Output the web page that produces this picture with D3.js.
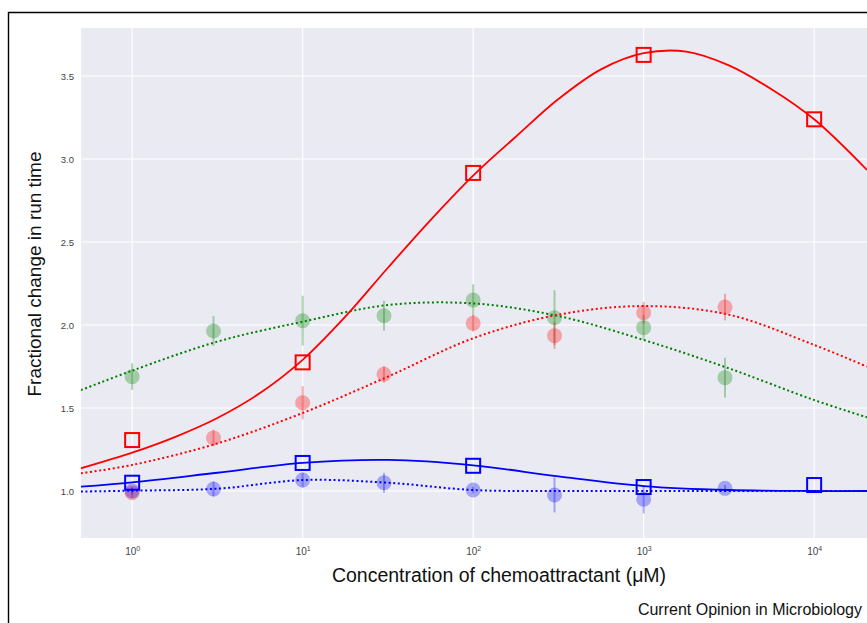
<!DOCTYPE html>
<html>
<head>
<meta charset="utf-8">
<script src="https://cdn.jsdelivr.net/npm/d3@7"></script>
<style>
  body { margin: 0; background: #fff; }
  svg { display: block; font-family: "Liberation Sans", Arial, sans-serif; }
</style>
</head>
<body>
<svg id="chart" width="867" height="623"></svg>
<script>
// measured values (open squares = solid fits, circles = dotted fits)
const squareConc = [1, 10, 100, 1000, 10000];
const redSquares = [1.307, 1.775, 2.916, 3.627, 3.239];
const blueSquares = [1.05, 1.169, 1.152, 1.024, 1.036];

const circleConc = [1, 3, 10, 30, 100, 300, 1000, 3000];
const redCircles = [0.99, 1.32, 1.532, 1.703, 2.01, 1.936, 2.074, 2.108];
const redErr = [0.035, 0.05, 0.1, 0.05, 0.05, 0.08, 0.065, 0.08];
const greenCircles = [1.689, 1.964, 2.026, 2.056, 2.15, 2.044, 1.984, 1.683];
const greenErr = [0.08, 0.09, 0.15, 0.09, 0.095, 0.165, 0.075, 0.12];
const blueCircles = [1.0, 1.012, 1.066, 1.05, 1.006, 0.976, 0.95, 1.016];
const blueErr = [0.02, 0.045, 0.045, 0.06, 0.02, 0.105, 0.085, 0.02];

// fitted curves (log10 of concentration)
const redSolidLog = [-0.3, 0, 0.25, 0.5, 0.75, 1, 1.25, 1.5, 1.75, 2, 2.25, 2.5, 2.75, 3, 3.25, 3.5, 3.75, 4, 4.31];
const redSolid = [1.137, 1.231, 1.325, 1.44, 1.59, 1.79, 2.05, 2.345, 2.632, 2.9, 3.134, 3.361, 3.54, 3.637, 3.647, 3.564, 3.42, 3.239, 2.934];
const curveLog = [-0.3, 0, 0.5, 1, 1.5, 2, 2.5, 3, 3.5, 4, 4.31];
const redDotted = [1.107, 1.157, 1.287, 1.47, 1.689, 1.92, 2.062, 2.114, 2.062, 1.88, 1.749];
const greenDotted = [1.608, 1.725, 1.9, 2.02, 2.12, 2.13, 2.054, 1.91, 1.739, 1.548, 1.444];
const blueSolid = [1.026, 1.052, 1.11, 1.169, 1.187, 1.155, 1.088, 1.03, 1.006, 1.0, 1.0];
const blueDotted = [0.997, 1.002, 1.014, 1.066, 1.05, 1.006, 1.0, 1.0, 1.0, 1.0, 1.0];

const yTicks = [1.0, 1.5, 2.0, 2.5, 3.0, 3.5];
const xTickExp = [0, 1, 2, 3, 4];

const svg = d3.select("#chart");
const plot = {left: 81, top: 28, right: 867, bottom: 538};

const x = d3.scaleLog()
  .domain([Math.pow(10, -0.3), Math.pow(10, 4.31)])
  .range([plot.left, plot.right]);
const y = d3.scaleLinear()
  .domain([0.717, 3.789])
  .range([plot.bottom, plot.top]);

// outer frame
svg.append("path")
  .attr("d", "M8.5,623 L8.5,12.5 L867,12.5")
  .attr("fill", "none")
  .attr("stroke", "#000")
  .attr("stroke-width", 1.4);

// plot background
svg.append("rect")
  .attr("x", plot.left).attr("y", plot.top)
  .attr("width", plot.right - plot.left)
  .attr("height", plot.bottom - plot.top)
  .attr("fill", "#eaeaf2");

svg.append("clipPath").attr("id", "clip")
  .append("rect")
  .attr("x", plot.left).attr("y", plot.top)
  .attr("width", plot.right - plot.left)
  .attr("height", plot.bottom - plot.top);

// grid
const grid = svg.append("g").attr("stroke", "#fff").attr("stroke-width", 1.2);
grid.selectAll(".gy").data(yTicks).join("line")
  .attr("x1", plot.left).attr("x2", plot.right)
  .attr("y1", d => y(d)).attr("y2", d => y(d));
grid.selectAll(".gx").data(xTickExp).join("line")
  .attr("y1", plot.top).attr("y2", plot.bottom)
  .attr("x1", d => x(Math.pow(10, d))).attr("x2", d => x(Math.pow(10, d)));

// y axis
const yAxis = svg.append("g")
  .attr("transform", `translate(${plot.left},0)`)
  .call(d3.axisLeft(y).tickValues(yTicks).tickFormat(d3.format(".1f")).tickSize(0).tickPadding(7));
yAxis.select(".domain").remove();
yAxis.selectAll("text")
  .attr("font-family", "Liberation Sans, Arial, sans-serif")
  .attr("font-size", 9.5)
  .attr("fill", "#444");

// x axis with superscript labels
const xAxis = svg.append("g")
  .attr("transform", `translate(0,${plot.bottom})`)
  .call(d3.axisBottom(x).tickValues(xTickExp.map(e => Math.pow(10, e))).tickFormat(() => "").tickSize(0));
xAxis.select(".domain").remove();
xAxis.selectAll(".tick").each(function(d, i) {
  const t = d3.select(this).select("text")
    .attr("y", 17)
    .attr("dy", 0)
    .attr("font-family", "Liberation Sans, Arial, sans-serif")
    .attr("font-size", 10)
    .attr("fill", "#444");
  t.append("tspan").text("10");
  t.append("tspan").attr("font-size", 7).attr("dy", -4).text(xTickExp[i]);
});

const g = svg.append("g").attr("clip-path", "url(#clip)");

// circles with error bars
function drawCircles(vals, errs, color) {
  const grp = g.append("g").attr("opacity", 0.3);
  grp.selectAll("line").data(vals).join("line")
    .attr("x1", (d, i) => x(circleConc[i]))
    .attr("x2", (d, i) => x(circleConc[i]))
    .attr("y1", (d, i) => y(d - errs[i]))
    .attr("y2", (d, i) => y(d + errs[i]))
    .attr("stroke", color)
    .attr("stroke-width", 2);
  vals.forEach((d, i) => {
    g.append("circle")
      .attr("cx", x(circleConc[i]))
      .attr("cy", y(d))
      .attr("r", 7.5)
      .attr("fill", color)
      .attr("fill-opacity", 0.3);
  });
}
drawCircles(greenCircles, greenErr, "#008000");
drawCircles(redCircles, redErr, "#ff0000");
drawCircles(blueCircles, blueErr, "#0000ff");

// fitted curves
function drawCurve(logs, vals, color, dotted) {
  const line = d3.line()
    .x((d, i) => x(Math.pow(10, logs[i])))
    .y(d => y(d))
    .curve(d3.curveCatmullRom.alpha(0.5));
  g.append("path")
    .datum(vals)
    .attr("d", line)
    .attr("fill", "none")
    .attr("stroke", color)
    .attr("stroke-width", dotted ? 2 : 1.8)
    .attr("stroke-dasharray", dotted ? "2,2.6" : null);
}
drawCurve(curveLog, greenDotted, "#008000", true);
drawCurve(curveLog, redDotted, "#ff0000", true);
drawCurve(curveLog, blueDotted, "#0000ff", true);
drawCurve(redSolidLog, redSolid, "#ff0000", false);
drawCurve(curveLog, blueSolid, "#0000ff", false);

// open squares
function drawSquares(vals, color) {
  g.append("g").selectAll("rect").data(vals).join("rect")
    .attr("x", (d, i) => x(squareConc[i]) - 7)
    .attr("y", d => y(d) - 7)
    .attr("width", 14)
    .attr("height", 14)
    .attr("fill", "none")
    .attr("stroke", color)
    .attr("stroke-width", 2);
}
drawSquares(redSquares, "#ff0000");
drawSquares(blueSquares, "#0000ff");

// labels
svg.append("text")
  .attr("transform", "translate(41,274) rotate(-90)")
  .attr("text-anchor", "middle")
  .attr("font-size", 19)
  .attr("fill", "#111")
  .text("Fractional change in run time");

svg.append("text")
  .attr("x", 499).attr("y", 582)
  .attr("text-anchor", "middle")
  .attr("font-size", 19.5)
  .attr("fill", "#111")
  .text("Concentration of chemoattractant (μM)");

svg.append("text")
  .attr("x", 862).attr("y", 615)
  .attr("text-anchor", "end")
  .attr("font-size", 16)
  .attr("fill", "#111")
  .text("Current Opinion in Microbiology");
</script>
</body>
</html>
